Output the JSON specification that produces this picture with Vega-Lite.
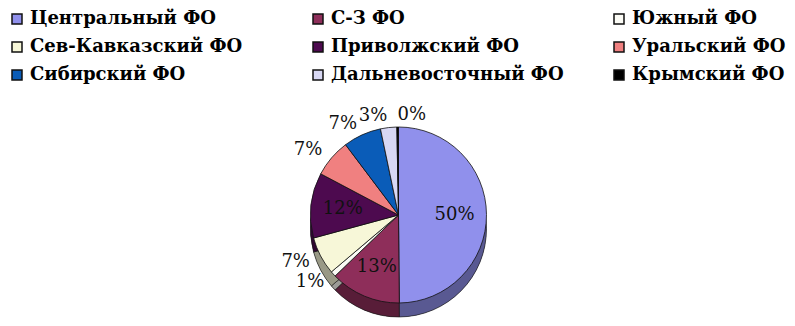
{
  "$schema": "https://vega.github.io/schema/vega-lite/v6.json",
  "width": 795,
  "height": 326,
  "autosize": {"type": "fit", "contains": "padding"},
  "padding": {"left": 8, "right": 6, "top": 10, "bottom": 4},
  "background": "white",
  "data": {
    "values": [
      {"n": 1, "district": "Центральный ФО", "share": 0.50},
      {"n": 2, "district": "С-З ФО", "share": 0.13},
      {"n": 3, "district": "Южный ФО", "share": 0.01},
      {"n": 4, "district": "Сев-Кавказский ФО", "share": 0.07},
      {"n": 5, "district": "Приволжский ФО", "share": 0.12},
      {"n": 6, "district": "Уральский ФО", "share": 0.07},
      {"n": 7, "district": "Сибирский ФО", "share": 0.07},
      {"n": 8, "district": "Дальневосточный ФО", "share": 0.03},
      {"n": 9, "district": "Крымский ФО", "share": 0.003}
    ]
  },
  "config": {
    "view": {"stroke": null},
    "legend": {
      "labelFont": "DejaVu Serif",
      "labelFontWeight": "bold",
      "labelFontSize": 18,
      "labelColor": "#000000",
      "labelLimit": 400
    }
  },
  "layer": [
    {
      "mark": {"type": "arc", "outerRadius": 88, "yOffset": 14, "color": "#000000"},
      "encoding": {
        "theta": {"field": "share", "type": "quantitative", "stack": true},
        "order": {"field": "n", "type": "quantitative"}
      }
    },
    {
      "mark": {"type": "arc", "outerRadius": 88, "yOffset": 14, "fillOpacity": 0.62, "stroke": "#111111", "strokeWidth": 0.6},
      "encoding": {
        "theta": {"field": "share", "type": "quantitative", "stack": true},
        "order": {"field": "n", "type": "quantitative"},
        "color": {
          "field": "district",
          "type": "nominal",
          "scale": {
            "domain": ["Центральный ФО", "С-З ФО", "Южный ФО", "Сев-Кавказский ФО", "Приволжский ФО", "Уральский ФО", "Сибирский ФО", "Дальневосточный ФО", "Крымский ФО"],
            "range": ["#9090ec", "#8e2e5a", "#fbfbf5", "#f7f7d8", "#4d0a4f", "#f08080", "#0a5cb8", "#d8d8f4", "#000000"]
          },
          "legend": {
            "orient": "top",
            "title": null,
            "columns": 3,
            "gridAlign": "all",
            "columnPadding": 46,
            "rowPadding": 10,
            "offset": 24,
            "symbolType": "square",
            "symbolSize": 100,
            "symbolStrokeColor": "#000000",
            "symbolStrokeWidth": 1.5,
            "symbolOpacity": 1
          }
        }
      }
    },
    {
      "mark": {"type": "arc", "outerRadius": 88, "stroke": "#111111", "strokeWidth": 0.8},
      "encoding": {
        "theta": {"field": "share", "type": "quantitative", "stack": true},
        "order": {"field": "n", "type": "quantitative"},
        "color": {"field": "district", "type": "nominal"}
      }
    },
    {
      "mark": {
        "type": "text",
        "font": "DejaVu Serif",
        "fontSize": 18,
        "color": "#111111",
        "radius": {"expr": "datum.share >= 0.1 ? 56 : 100"},
        "align": {"expr": "datum.share >= 0.1 ? 'center' : datum.share < 0.005 ? 'left' : 'right'"}
      },
      "encoding": {
        "theta": {"field": "share", "type": "quantitative", "stack": true},
        "order": {"field": "n", "type": "quantitative"},
        "text": {"field": "share", "type": "quantitative", "format": ".0%"}
      }
    }
  ]
}
